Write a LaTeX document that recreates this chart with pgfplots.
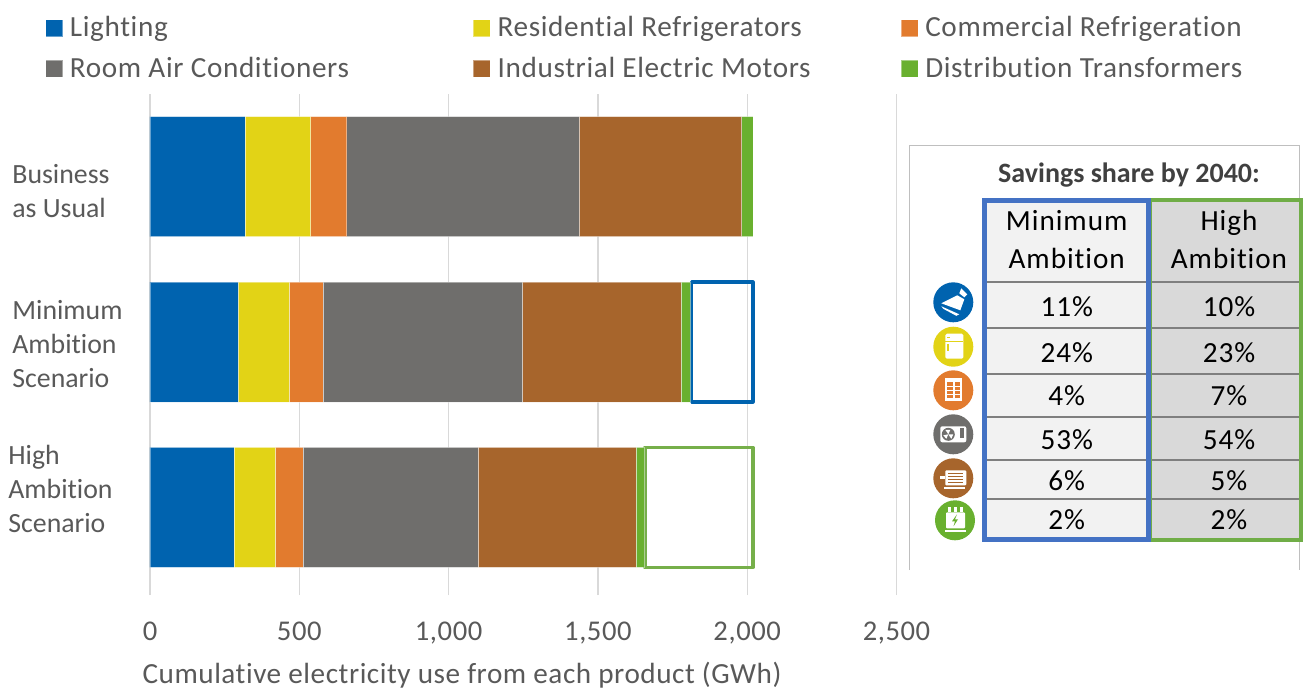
\documentclass[border=0pt]{standalone}
\usepackage{fontspec}
\setmainfont[Ligatures=NoCommon]{Carlito}
\newfontfamily\spaced[LetterSpace=2.2,Ligatures=NoCommon]{Carlito}
\newfontfamily\spacedlab[LetterSpace=1.85,Ligatures=NoCommon]{Carlito}
\newfontfamily\spacedtab[LetterSpace=3.3,Ligatures=NoCommon]{Carlito}
\newfontfamily\spacedtick[LetterSpace=2,Ligatures=NoCommon]{Carlito}
\usepackage{pgfplots}
\pgfplotsset{compat=1.18}

\definecolor{cLight}{HTML}{0063AF}
\definecolor{cFridge}{HTML}{E2D316}
\definecolor{cComm}{HTML}{E27B2E}
\definecolor{cRoom}{HTML}{6F6E6C}
\definecolor{cMotor}{HTML}{A7652C}
\definecolor{cTrans}{HTML}{69B02F}
\definecolor{cBoxGreen}{HTML}{76AF4A}
\definecolor{txt}{HTML}{595959}
\definecolor{tabBlue}{HTML}{4472C4}
\definecolor{tabGreen}{HTML}{70AD47}
\definecolor{rowLine}{HTML}{7F7F7F}

\newcommand{\chartfont}{\fontsize{14.6}{17}\selectfont}
\newcommand{\tickfont}{\fontsize{14.3}{17}\selectfont}
\newcommand{\catfont}{\fontsize{13.9}{17}\selectfont}

\pgfkeys{/pgf/number format/.cd,1000 sep={,}}

\begin{document}
\begin{tikzpicture}
\path[use as bounding box] (0,0) rectangle (651.5pt,-349pt);

\begin{axis}[
    at={(75pt,-297.5pt)}, anchor=south west,
    width=373.25pt, height=250.5pt, scale only axis,
    xbar stacked, bar width=60pt,
    xmin=0, xmax=2500, ymin=-0.53, ymax=2.5,
    xtick={0,500,1000,1500,2000,2500},
    ytick={0,1,2}, yticklabels={},
    major tick length=0pt,
    axis line style={draw=none},
    xmajorgrids=true,
    grid style={draw=black!15, line width=0.7pt},
    /pgf/number format/assume math mode=true,
    tick label style={font=\spacedtick\tickfont, text=txt},
    xticklabel style={yshift=-10pt},
    xlabel={Cumulative electricity use from each product (GWh)},
    xlabel style={at={(axis description cs:0.418,-0.1597)}, anchor=center, font=\spacedlab\chartfont, text=txt},
    legend columns=3,
    legend style={
        at={(axis description cs:-0.1407,1.091)}, anchor=west,
        draw=none, fill=none, inner sep=0pt, font=\spaced\chartfont, text=txt,
        cells={anchor=west},
        /tikz/column 1/.style={column sep=1.5pt},
        /tikz/column 2/.style={column sep=60pt},
        /tikz/column 3/.style={column sep=1.5pt},
        /tikz/column 4/.style={column sep=43pt},
        /tikz/column 5/.style={column sep=1.5pt},
        row sep=4.5pt,
    },
    legend image code/.code={
        \fill[#1] (0pt,-4.25pt) rectangle (8.5pt,4.25pt);
    },
]
\addplot[fill=cLight, draw=white, draw opacity=.4, line width=.3pt]
    coordinates {(281,0) (295,1) (318,2)};
\addplot[fill=cFridge, draw=white, draw opacity=.4, line width=.3pt]
    coordinates {(139,0) (172,1) (220,2)};
\addplot[fill=cComm, draw=white, draw opacity=.4, line width=.3pt]
    coordinates {(92,0) (112,1) (121,2)};
\addplot[fill=cRoom, draw=white, draw opacity=.4, line width=.3pt]
    coordinates {(586,0) (668,1) (778,2)};
\addplot[fill=cMotor, draw=white, draw opacity=.4, line width=.3pt]
    coordinates {(529,0) (531,1) (544,2)};
\addplot[fill=cTrans, draw=white, draw opacity=.4, line width=.3pt]
    coordinates {(27,0) (32,1) (38,2)};
\legend{Lighting, Residential Refrigerators, Commercial Refrigeration,
        Room Air Conditioners, Industrial Electric Motors, Distribution Transformers}

% savings outlines
\addplot[forget plot, stack plots=false, sharp plot, no marks, fill=none, draw=cLight,
    line width=1.65pt, line join=round]
    coordinates {(1814,0.637) (2019,0.637) (2019,1.363) (1814,1.363)} -- cycle;
\addplot[forget plot, stack plots=false, sharp plot, no marks, fill=none, draw=cBoxGreen,
    line width=1.75pt, line join=round]
    coordinates {(1658,-0.363) (2019,-0.363) (2019,0.363) (1658,0.363)} -- cycle;
\end{axis}

\begin{scope}[x=0.5pt, y=-0.5pt]
% category labels
\node[anchor=west, inner sep=0pt, font=\catfont, text=txt, align=left] at (12,191.5)
    {Business\\as Usual};
\node[anchor=west, inner sep=0pt, font=\catfont, text=txt, align=left] at (12,344)
    {Minimum\\Ambition\\Scenario};
\node[anchor=west, inner sep=0pt, font=\catfont, text=txt, align=left] at (8,489)
    {High\\Ambition\\Scenario};

% table panel
\draw[black!25, line width=.5pt] (909.5,570) -- (909.5,145.5) -- (1299.5,145.5) -- (1299.5,570);
\node[font=\fontsize{14}{17}\selectfont\bfseries, text=black!75] at (1129,175) {Savings share by 2040:};

\fill[black!5] (984,200) rectangle (1149,540);
\fill[black!15] (1150,200) rectangle (1302,540);
\foreach \yy in {281.7,327.7,373.7,416.7,460,499.3}
    \draw[rowLine, line width=1pt] (984,\yy) -- (1301,\yy);
\draw[tabGreen, line width=2pt] (1150,200) rectangle (1301,540);
\draw[tabBlue, line width=2.5pt] (984.5,200.5) rectangle (1148.5,539.5);

\foreach \yy/\aa/\bb in {316.7/11\%/10\%, 362.7/24\%/23\%, 405/4\%/7\%,
                         449/53\%/54\%, 490.7/6\%/5\%, 529.3/2\%/2\%}{
    \node[anchor=base, font=\spacedtab\chartfont, text=black] at (1066.7,\yy) {\aa};
    \node[anchor=base, font=\spacedtab\chartfont, text=black] at (1229,\yy) {\bb};
}
\node[anchor=base, font=\spacedtab\chartfont, text=black] at (1066.7,230) {Minimum};
\node[anchor=base, font=\spacedtab\chartfont, text=black] at (1066.7,268) {Ambition};
\node[anchor=base, font=\spacedtab\chartfont, text=black] at (1229,230) {High};
\node[anchor=base, font=\spacedtab\chartfont, text=black] at (1229,268) {Ambition};

% icons
\begin{scope}[shift={(953.3,302.3)}]
    \fill[cLight] (0,0) circle (10pt);
    \fill[white] (4,-7) -- (11,-3) -- (7,8) -- (-12,1) -- cycle;
    \fill[white] (-12,4) -- (6,12) -- (3,13.5) -- (-10,6.5) -- cycle;
    \fill[white] (6,-9) -- (8,-14) -- (14,-8) -- (11,-5) -- cycle;
\end{scope}
\begin{scope}[shift={(953.3,346.7)}]
    \fill[cFridge] (0,0) circle (10pt);
    \fill[white, rounded corners=0.75pt] (-8,-13) rectangle (10,12);
    \fill[cFridge] (-8,-6) rectangle (10,-4.5);
    \fill[cFridge] (-6,-3) rectangle (-4,4);
    \fill[cFridge] (-6,-10) rectangle (-3,-8.5);
\end{scope}
\begin{scope}[shift={(953.3,390.3)}]
    \fill[cComm] (0,0) circle (10pt);
    \fill[white] (-8,-12) rectangle (9,11);
    \fill[cComm] (-6,-8) rectangle (0,9);
    \fill[cComm] (2,-8) rectangle (7,9);
    \foreach \k in {-4,0,4,8} {
        \draw[white, line width=.6pt] (-6,\k) -- (0,\k);
        \draw[white, line width=.6pt] (2,\k) -- (7,\k);
    }
\end{scope}
\begin{scope}[shift={(953.3,434.3)}]
    \fill[cRoom] (0,0) circle (10pt);
    \fill[white, rounded corners=1pt] (-13,-8) rectangle (13,8);
    \fill[cRoom] (-5,0) circle (3.25pt);
    \fill[white] (-5,0) -- (-8,-4.5) -- (-3,-4.5) -- cycle;
    \fill[white] (-5,0) -- (0,0) -- (-2,4.5) -- cycle;
    \fill[white] (-5,0) -- (-10,1) -- (-7,4.5) -- cycle;
    \fill[cRoom] (7,-6) rectangle (11,4);
\end{scope}
\begin{scope}[shift={(953.3,478.3)}]
    \fill[cMotor] (0,0) circle (10pt);
    \fill[white, rounded corners=0.5pt] (-8,-8) rectangle (13,7);
    \fill[white] (-13,-2) rectangle (-8,1);
    \fill[white] (-9,9) rectangle (12,10.5);
    \foreach \k in {-5,-2,1,4}
        \fill[cMotor] (-5,\k) rectangle (10,\k+1);
\end{scope}
\begin{scope}[shift={(955,520.3)}]
    \fill[cTrans] (0,0) circle (10pt);
    \fill[white, rounded corners=0.5pt] (-9,-8) rectangle (10,8);
    \foreach \k in {-6,0,6}
        \fill[white] (\k-1,-13) rectangle (\k+1.5,-8);
    \fill[white] (-10,10) rectangle (11,11.5);
    \fill[cTrans] (2,-6) -- (-3,1) -- (0,1) -- (-1.5,6) -- (3,-1) -- (0,-1) -- cycle;
\end{scope}
\end{scope}
\end{tikzpicture}
\end{document}
